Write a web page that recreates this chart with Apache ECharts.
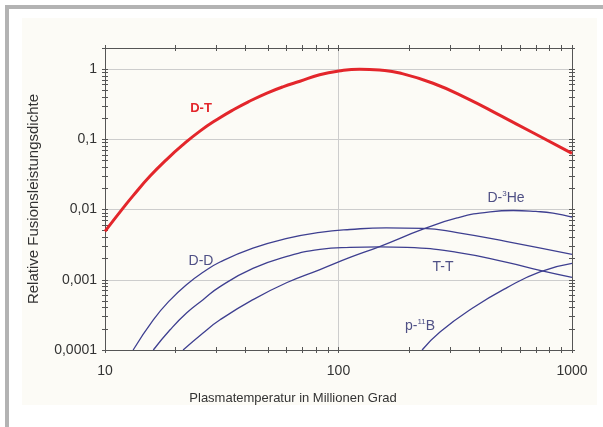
<!DOCTYPE html>
<html>
<head>
<meta charset="utf-8">
<script src="https://cdn.jsdelivr.net/npm/echarts@6/dist/echarts.min.js"></script>
<style>
    body { margin: 0; background: #fff; }
    #wrap { position: relative; width: 603px; height: 427px; overflow: hidden; background: #fff; }
    .bar-top { position: absolute; left: 5px; top: 5px; width: 598px; height: 4px; background: #b3b3b3; }
    .bar-left { position: absolute; left: 5px; top: 5px; width: 4px; height: 422px; background: #b3b3b3; }
    .panel { position: absolute; left: 22px; top: 18px; width: 575px; height: 387px; background: #fcfbf6; }
    #grafico { position: absolute; left: 0; top: 0; width: 603px; height: 427px; }
</style>
</head>
<body>
<div id="wrap">
    <div class="bar-top"></div>
    <div class="bar-left"></div>
    <div class="panel"></div>
    <div id="grafico"></div>
</div>
<script>
const FONT = '"Liberation Sans", Arial, sans-serif';
const ROT = '#e3262b';
const BLAU = '#3e3f90';
const TEXT_BLAU = '#4f5085';
const ACHSE = '#555555';

// Temperatur (Millionen Grad) -> relative Fusionsleistungsdichte
const dtTemp = [10, 11.9, 13.2, 15.6, 18.4, 21.6, 25.5, 30.2, 35.3, 41.8, 49.4, 57.8, 68.4, 83, 100, 123, 150, 183, 254, 355, 492, 681, 1000];
const dtWert = [0.0049, 0.0103, 0.0158, 0.030, 0.052, 0.084, 0.131, 0.192, 0.262, 0.352, 0.456, 0.56, 0.672, 0.83, 0.94, 1.0, 0.97, 0.88, 0.63, 0.384, 0.219, 0.124, 0.063];

const ddTemp = [13.2, 16.1, 19.0, 22.4, 26.3, 31.1, 43.0, 60.2, 83.3, 112, 160, 230, 322, 527, 1000];
const ddWert = [0.0001, 0.000269, 0.000514, 0.000857, 0.00128, 0.00179, 0.00282, 0.00388, 0.00472, 0.0052, 0.0055, 0.0054, 0.0047, 0.0035, 0.0023];

const ttTemp = [16.1, 19.0, 22.4, 26.3, 31.1, 43.0, 60.2, 83.3, 112, 150, 196, 322, 527, 729, 1000];
const ttWert = [0.0001, 0.000194, 0.000339, 0.000521, 0.0008, 0.00145, 0.00215, 0.00271, 0.0029, 0.00295, 0.0029, 0.00246, 0.00177, 0.00136, 0.00108];

const dheTemp = [21.6, 26.3, 31.1, 43.0, 60.2, 83.3, 112, 151, 230, 322, 446, 560, 700, 829, 1000];
const dheWert = [0.0001, 0.000175, 0.000269, 0.000521, 0.000914, 0.0014, 0.00208, 0.003, 0.00525, 0.0076, 0.0093, 0.0097, 0.0094, 0.0089, 0.0078];

const pbTemp = [228, 272, 377, 527, 729, 1000];
const pbWert = [0.0001, 0.000181, 0.0004, 0.000775, 0.0013, 0.00171];

// Achsenbeschriftung
const xLabelWerte = [10, 100, 1000];
const yLabelWerte = [0.0001, 0.001, 0.01, 0.1, 1];
const yLabelTexte = ['0,0001', '0,001', '0,01', '0,1', '1'];

const X_MIN = 10, X_MAX = 1000;
const Y_MIN = 0.0001, Y_MAX = 2;

// Teilstriche 1..9 je Dekade
function logTicks(dekaden, extra) {
    const ticks = [];
    dekaden.forEach(d => {
        for (let k = 1; k <= 9; k++) ticks.push(+(k * d).toPrecision(6));
    });
    return ticks.concat(extra);
}
const xTicks = logTicks([10, 100], [1000]);
const yTicks = logTicks([0.0001, 0.001, 0.01, 0.1], [1, 2]);

function paare(temp, wert) {
    return temp.map((t, i) => [t, wert[i]]);
}

const rahmen = { left: 105, right: 31, top: 48, bottom: 77 };

const grafico = echarts.init(document.getElementById('grafico'));

const xAchsen = [];
const yAchsen = [];

// Grid 0: Rahmen, Beschriftung, Gitterlinien
xAchsen.push({
    type: 'log', gridIndex: 0, position: 'bottom', min: X_MIN, max: X_MAX,
    axisLine: { show: true, lineStyle: { color: ACHSE, width: 1 } },
    axisTick: { show: false },
    axisLabel: {
        customValues: xLabelWerte, margin: 14, color: '#333', fontSize: 14, fontFamily: FONT,
        formatter: v => String(Math.round(v))
    },
    splitLine: { show: true, showMinLine: false, showMaxLine: false, lineStyle: { color: '#cdcdcd', width: 1 } }
});
xAchsen.push({
    type: 'log', gridIndex: 0, position: 'top', min: X_MIN, max: X_MAX,
    axisLine: { show: true, lineStyle: { color: ACHSE, width: 1 } },
    axisTick: { show: false }, axisLabel: { show: false }, splitLine: { show: false }
});
yAchsen.push({
    type: 'log', gridIndex: 0, position: 'left', min: Y_MIN, max: Y_MAX,
    name: 'Relative Fusionsleistungsdichte', nameLocation: 'middle', nameGap: 64,
    nameTextStyle: { color: '#333', fontSize: 15, fontFamily: FONT },
    axisLine: { show: true, lineStyle: { color: ACHSE, width: 1 } },
    axisTick: { show: false },
    axisLabel: {
        customValues: yLabelWerte, margin: 8, color: '#333', fontSize: 14, fontFamily: FONT,
        formatter: v => {
            const i = yLabelWerte.findIndex(t => Math.abs(Math.log10(t) - Math.log10(v)) < 1e-6);
            return i >= 0 ? yLabelTexte[i] : '';
        }
    },
    splitLine: { show: true, showMinLine: false, showMaxLine: false, lineStyle: { color: '#cdcdcd', width: 1 } }
});
yAchsen.push({
    type: 'log', gridIndex: 0, position: 'right', min: Y_MIN, max: Y_MAX,
    axisLine: { show: true, lineStyle: { color: ACHSE, width: 1 } },
    axisTick: { show: false }, axisLabel: { show: false }, splitLine: { show: false }
});

// Grid 1 und 2: Teilstriche nach innen und nach aussen
[1, 2].forEach(g => {
    const tick = ticks => ({
        show: true, inside: g === 1, length: 3, customValues: ticks,
        lineStyle: { color: ACHSE, width: 1 }
    });
    ['bottom', 'top'].forEach(pos => xAchsen.push({
        type: 'log', gridIndex: g, position: pos, min: X_MIN, max: X_MAX,
        axisLine: { show: false }, axisLabel: { show: false }, splitLine: { show: false },
        axisTick: tick(xTicks)
    }));
    ['left', 'right'].forEach(pos => yAchsen.push({
        type: 'log', gridIndex: g, position: pos, min: Y_MIN, max: Y_MAX,
        axisLine: { show: false }, axisLabel: { show: false }, splitLine: { show: false },
        axisTick: tick(yTicks)
    }));
});

function kurve(name, daten, farbe, breite) {
    return {
        name: name, type: 'line', xAxisIndex: 0, yAxisIndex: 0,
        data: daten, symbol: 'none', smooth: 0.5,
        lineStyle: { color: farbe, width: breite }, z: breite > 2 ? 4 : 3
    };
}

function beschriftung(x, y, text, farbe, extra) {
    return {
        type: 'text', x: x, y: y, z: 10,
        style: Object.assign({
            text: text, fill: farbe, fontSize: 14, fontFamily: FONT,
            textAlign: 'center', textVerticalAlign: 'middle'
        }, extra || {})
    };
}

const hochgestellt = {
    n: { fontSize: 14, fontFamily: FONT, fill: TEXT_BLAU, lineHeight: 16 },
    s: { fontSize: 8, fontFamily: FONT, fill: TEXT_BLAU, lineHeight: 9, verticalAlign: 'top' }
};

grafico.setOption({
    animation: false,
    grid: [rahmen, rahmen, rahmen],
    xAxis: xAchsen,
    yAxis: yAchsen,
    series: [
        kurve('D-D', paare(ddTemp, ddWert), BLAU, 1.3),
        kurve('T-T', paare(ttTemp, ttWert), BLAU, 1.3),
        kurve('D-3He', paare(dheTemp, dheWert), BLAU, 1.3),
        kurve('p-11B', paare(pbTemp, pbWert), BLAU, 1.3),
        kurve('D-T', paare(dtTemp, dtWert), ROT, 3)
    ],
    graphic: [
        beschriftung(201, 108, 'D-T', ROT, { fontWeight: 'bold', fontSize: 13 }),
        beschriftung(201, 261, 'D-D', TEXT_BLAU),
        beschriftung(443, 267, 'T-T', TEXT_BLAU),
        beschriftung(506, 198, '{n|D-}{s|3}{n|He}', TEXT_BLAU, { rich: hochgestellt }),
        beschriftung(420, 326, '{n|p-}{s|11}{n|B}', TEXT_BLAU, { rich: hochgestellt }),
        beschriftung(293, 398, 'Plasmatemperatur in Millionen Grad', '#333', { fontSize: 13 })
    ]
});
</script>
</body>
</html>
